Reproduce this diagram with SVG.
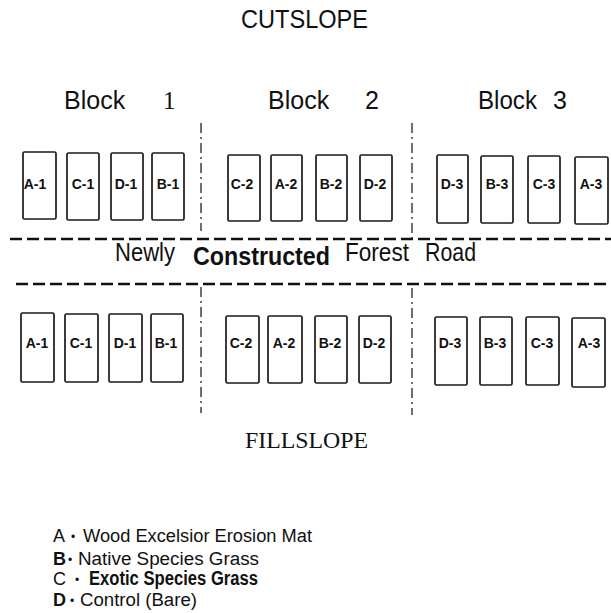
<svg xmlns="http://www.w3.org/2000/svg" width="611" height="613" viewBox="0 0 611 613">
<style>
text{font-family:"Liberation Sans",Arial,sans-serif;fill:#111}
.plot rect{fill:#fff;stroke:#1a1a1a;stroke-width:1.7}
.plot text{font-size:14px;font-weight:bold;text-anchor:middle}
.road{stroke:#111;stroke-width:2.6;stroke-dasharray:12 5;fill:none}
.div{stroke:#222;stroke-width:1.3;stroke-dasharray:10 4 2 4;fill:none}
.blk{font-size:25px}
.lg{font-size:18px}
.bul{font-size:12px}
</style>
<rect width="611" height="613" fill="#fff"/>
<text x="304.5" y="28" font-size="25" text-anchor="middle" textLength="127" lengthAdjust="spacingAndGlyphs">CUTSLOPE</text>
<g id="block-labels">
<text class="blk" x="64" y="109">Block</text>
<text x="163" y="109" font-size="25" style="font-family:'Liberation Serif',serif">1</text>
<text class="blk" x="268" y="109">Block</text>
<text class="blk" x="365" y="109">2</text>
<text class="blk" x="478" y="109" textLength="59" lengthAdjust="spacingAndGlyphs">Block</text>
<text class="blk" x="553" y="109">3</text>
</g>
<g id="connectors">
<line class="road" x1="10" y1="239" x2="611" y2="239"/>
<line class="road" x1="16" y1="284" x2="611" y2="284"/>
<line class="div" x1="201" y1="123" x2="201" y2="231"/>
<line class="div" x1="412" y1="123" x2="412" y2="238"/>
<line class="div" x1="201" y1="287" x2="201" y2="413"/>
<line class="div" x1="412" y1="288" x2="412" y2="415"/>
</g>
<g id="road-label">
<text x="115" y="261" font-size="25.5" textLength="60" lengthAdjust="spacingAndGlyphs">Newly</text>
<text x="193" y="265" font-size="25.5" font-weight="bold" textLength="137" lengthAdjust="spacingAndGlyphs">Constructed</text>
<text x="345" y="261" font-size="25.5" textLength="64" lengthAdjust="spacingAndGlyphs">Forest</text>
<text x="425" y="261" font-size="25.5" textLength="51" lengthAdjust="spacingAndGlyphs">Road</text>
</g>
<g class="plot">
<g id="cut-A-1"><rect x="23" y="152" width="33" height="67" rx="1.5"/><text x="35" y="189">A-1</text></g>
<g id="cut-C-1"><rect x="67" y="153" width="32" height="67" rx="1.5"/><text x="83" y="189">C-1</text></g>
<g id="cut-D-1"><rect x="111" y="153" width="32" height="67" rx="1.5"/><text x="126" y="189">D-1</text></g>
<g id="cut-B-1"><rect x="152" y="153" width="32" height="67" rx="1.5"/><text x="168" y="189">B-1</text></g>
<g id="cut-C-2"><rect x="228" y="155" width="32" height="66" rx="1.5"/><text x="242" y="189">C-2</text></g>
<g id="cut-A-2"><rect x="271" y="155" width="31" height="66" rx="1.5"/><text x="286" y="189">A-2</text></g>
<g id="cut-B-2"><rect x="316" y="155" width="31" height="66" rx="1.5"/><text x="331" y="189">B-2</text></g>
<g id="cut-D-2"><rect x="360" y="155" width="32" height="66" rx="1.5"/><text x="375" y="189">D-2</text></g>
<g id="cut-D-3"><rect x="437" y="155" width="31" height="68" rx="1.5"/><text x="452" y="189">D-3</text></g>
<g id="cut-B-3"><rect x="481" y="156" width="32" height="67" rx="1.5"/><text x="497" y="189">B-3</text></g>
<g id="cut-C-3"><rect x="528" y="156" width="32" height="67" rx="1.5"/><text x="544" y="189">C-3</text></g>
<g id="cut-A-3"><rect x="575" y="157" width="33" height="67" rx="1.5"/><text x="591" y="189">A-3</text></g>
<g id="fill-A-1"><rect x="21" y="313" width="33" height="69" rx="1.5"/><text x="37" y="348">A-1</text></g>
<g id="fill-C-1"><rect x="65" y="314" width="33" height="68" rx="1.5"/><text x="81" y="348">C-1</text></g>
<g id="fill-D-1"><rect x="109" y="314" width="33" height="68" rx="1.5"/><text x="125" y="348">D-1</text></g>
<g id="fill-B-1"><rect x="151" y="314" width="32" height="68" rx="1.5"/><text x="166" y="348">B-1</text></g>
<g id="fill-C-2"><rect x="226" y="316" width="33" height="67" rx="1.5"/><text x="241" y="348">C-2</text></g>
<g id="fill-A-2"><rect x="268" y="316" width="34" height="67" rx="1.5"/><text x="284" y="348">A-2</text></g>
<g id="fill-B-2"><rect x="315" y="316" width="32" height="67" rx="1.5"/><text x="330" y="348">B-2</text></g>
<g id="fill-D-2"><rect x="359" y="316" width="32" height="67" rx="1.5"/><text x="374" y="348">D-2</text></g>
<g id="fill-D-3"><rect x="435" y="317" width="32" height="68" rx="1.5"/><text x="450" y="348">D-3</text></g>
<g id="fill-B-3"><rect x="480" y="317" width="32" height="68" rx="1.5"/><text x="495" y="348">B-3</text></g>
<g id="fill-C-3"><rect x="526" y="317" width="33" height="68" rx="1.5"/><text x="542" y="348">C-3</text></g>
<g id="fill-A-3"><rect x="572" y="318" width="33" height="69" rx="1.5"/><text x="589" y="348">A-3</text></g>
</g>
<text x="245" y="448" font-size="24" style="font-family:'Liberation Serif',serif" textLength="123" lengthAdjust="spacingAndGlyphs">FILLSLOPE</text>
<g id="legend">
<text class="lg" x="53" y="542">A<tspan class="bul" x="71" dy="-1">•</tspan><tspan x="83" dy="1" textLength="229" lengthAdjust="spacingAndGlyphs">Wood Excelsior Erosion Mat</tspan></text>
<text class="lg" x="53" y="565"><tspan font-weight="bold">B</tspan><tspan class="bul" x="68" dy="-1">•</tspan><tspan x="78" dy="1" textLength="181" lengthAdjust="spacingAndGlyphs">Native Species Grass</tspan></text>
<text class="lg" x="53" y="585">C<tspan class="bul" x="75" dy="-1">•</tspan><tspan x="89" dy="1" font-weight="bold" font-size="19.5" textLength="169" lengthAdjust="spacingAndGlyphs">Exotic Species Grass</tspan></text>
<text class="lg" x="53" y="606"><tspan font-weight="bold">D</tspan><tspan class="bul" x="70" dy="-1">•</tspan><tspan x="80" dy="1" textLength="117" lengthAdjust="spacingAndGlyphs">Control (Bare)</tspan></text>
</g>
</svg>
